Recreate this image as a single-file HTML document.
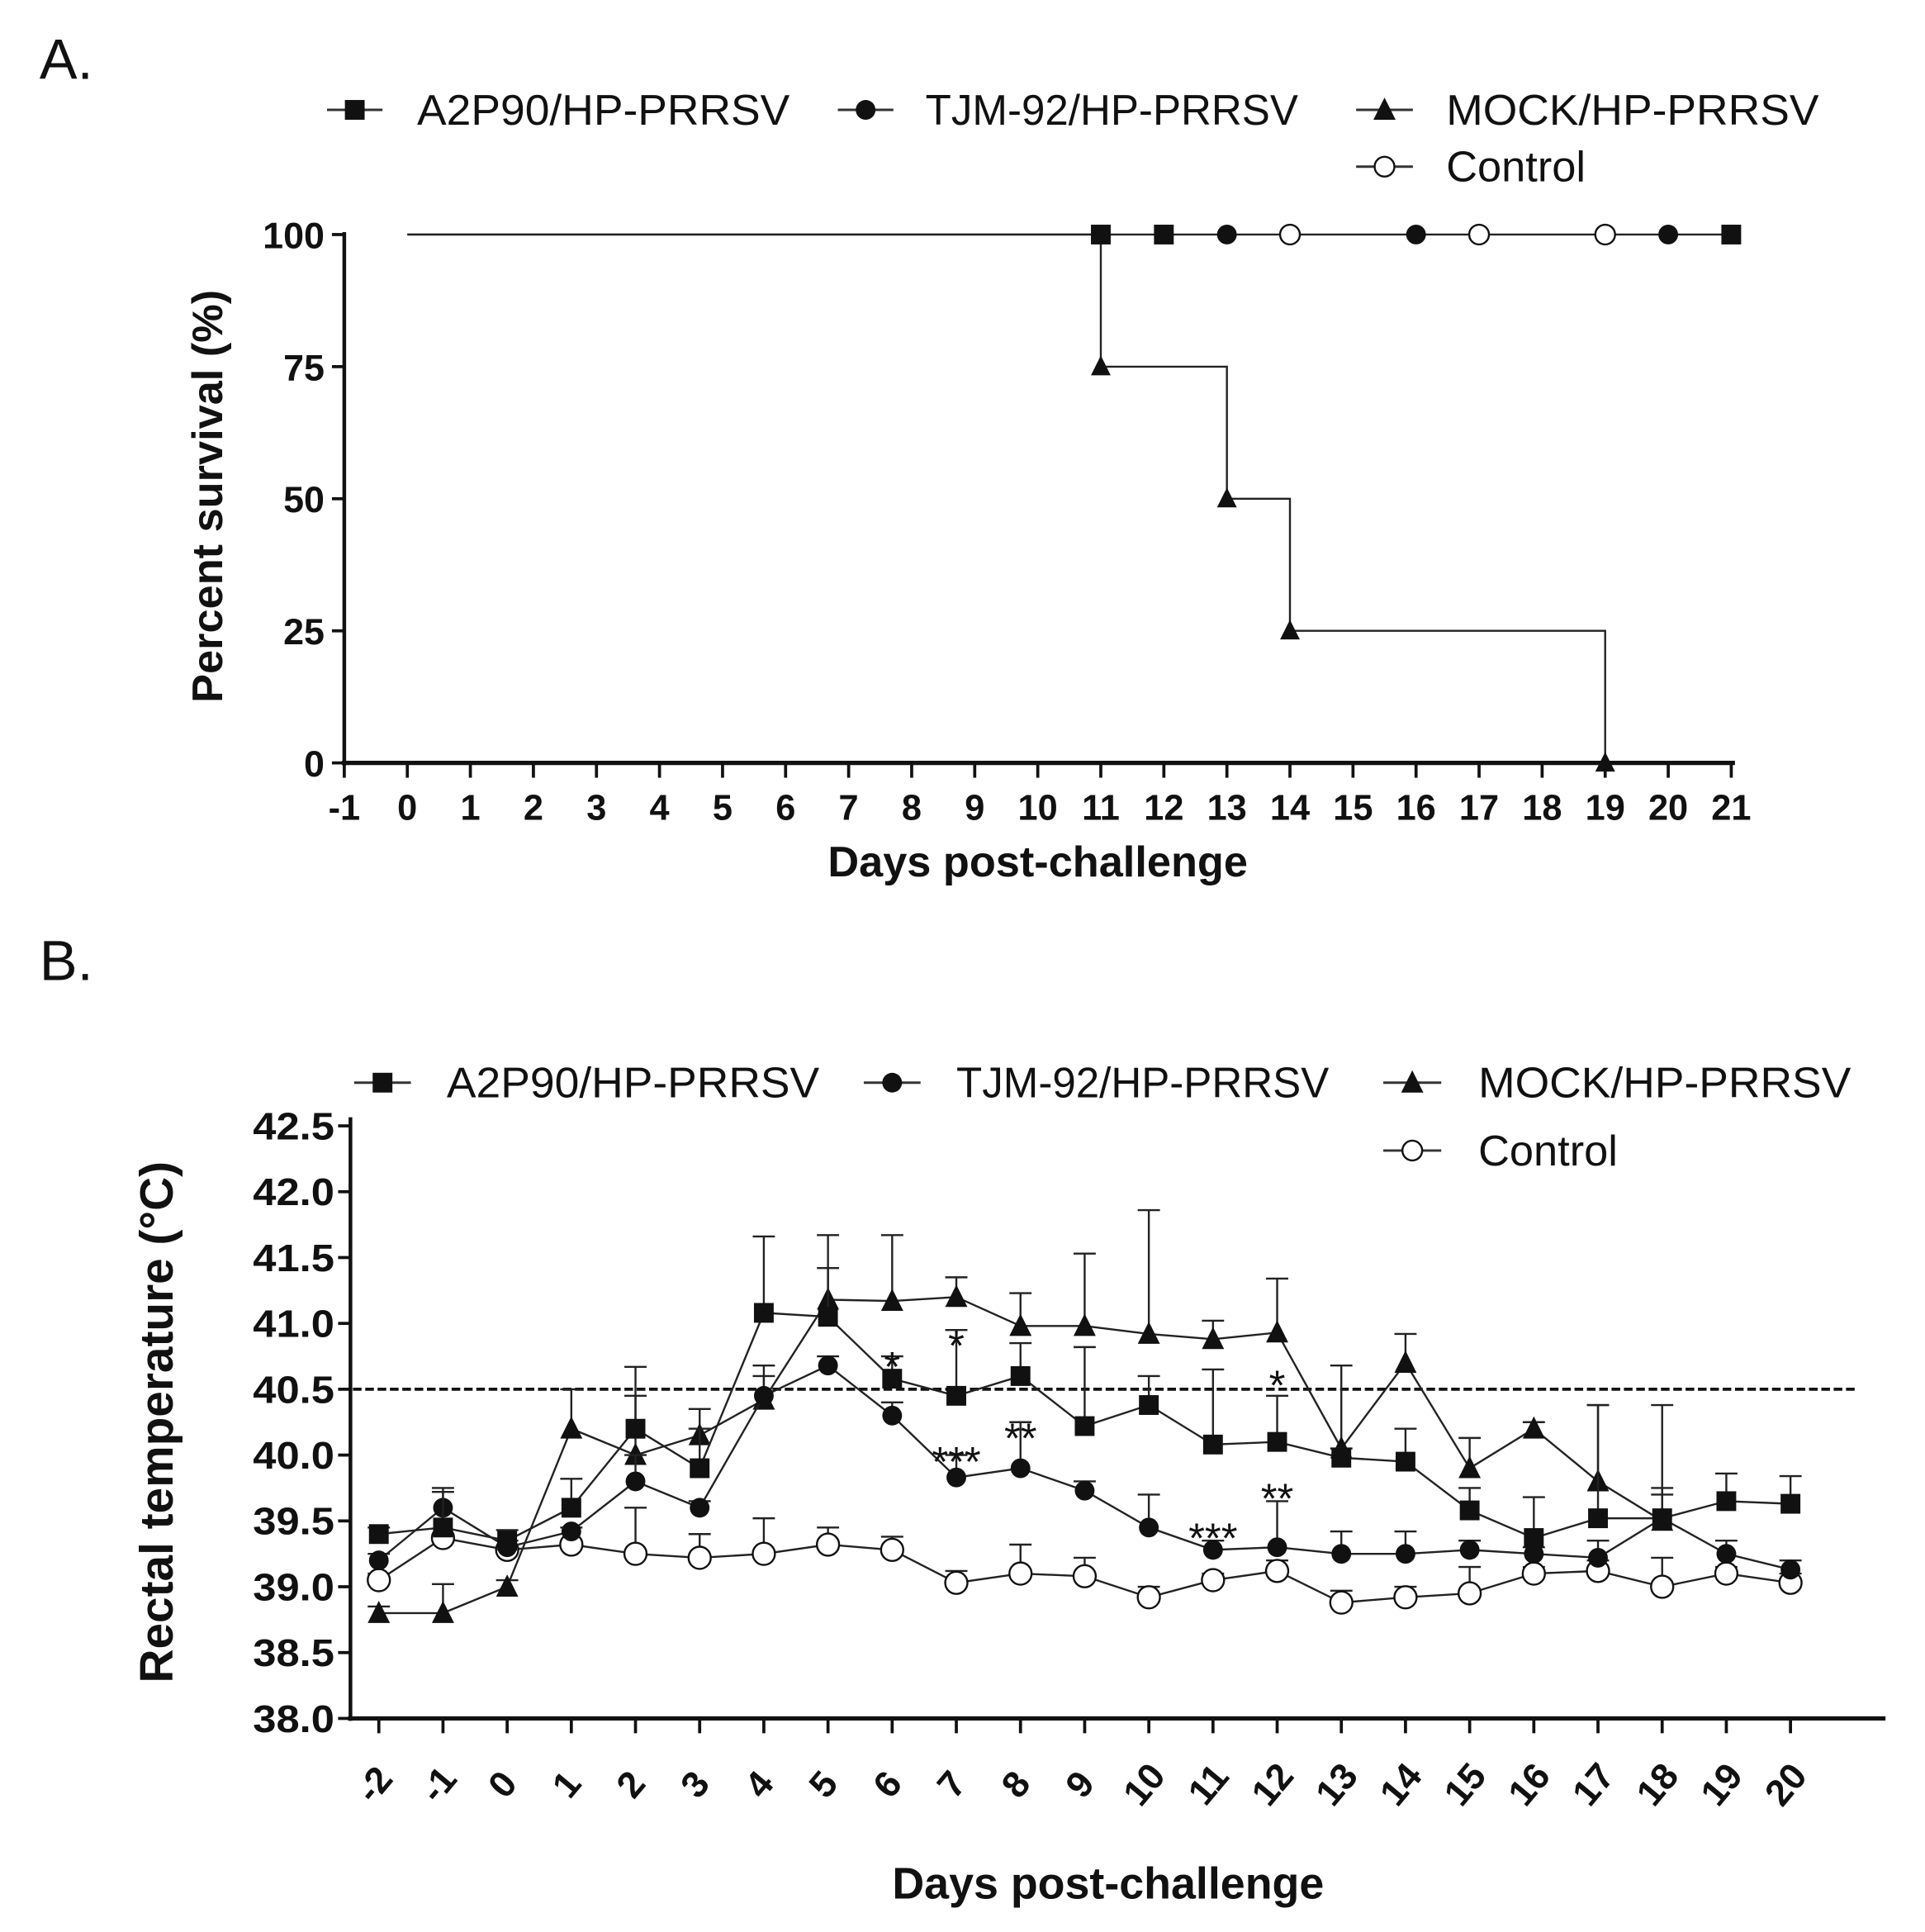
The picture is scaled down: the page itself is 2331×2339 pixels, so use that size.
<!DOCTYPE html>
<html><head><meta charset="utf-8"><style>
html,body{margin:0;padding:0;background:#fff;}
svg{display:block;}
text{font-family:"Liberation Sans",Arial,sans-serif;fill:#111;}
.b{font-weight:bold;}
</style></head><body>
<svg id="fig" width="2331" height="2339" viewBox="0 0 1560 1565" preserveAspectRatio="none" xmlns="http://www.w3.org/2000/svg">
<g id="A"></g>
<g id="B"></g>
</svg>
<script>
// ---------- Panel A data ----------
const survDays = [-1,0,1,2,3,4,5,6,7,8,9,10,11,12,13,14,15,16,17,18,19,20,21];
const survTicks = [0,25,50,75,100];
const mockStepDays = [0,11,13,14,19];
const mockStepVals = [100,75,50,25,0];
const a2p90Censor = [11,12,21];
const tjmCensor = [13,16,20];
const ctrlCensor = [14,17,19];
// ---------- Panel B data ----------
const tempDays = [-2,-1,0,1,2,3,4,5,6,7,8,9,10,11,12,13,14,15,16,17,18,19,20];
const tempTicks = [38.0,38.5,39.0,39.5,40.0,40.5,41.0,41.5,42.0,42.5];
const a2p90Temp = [39.4,39.45,39.35,39.6,40.2,39.9,41.08,41.05,40.58,40.45,40.6,40.22,40.38,40.08,40.1,39.98,39.95,39.58,39.37,39.52,39.52,39.65,39.63];
const a2p90Err  = [39.45,39.72,39.43,39.82,40.45,40.2,41.66,41.42,40.75,40.95,40.85,40.82,40.6,40.65,40.45,40.05,40.2,39.75,39.68,40.38,40.38,39.86,39.84];
const tjmTemp = [39.2,39.6,39.3,39.42,39.8,39.6,40.45,40.68,40.3,39.83,39.9,39.73,39.45,39.28,39.3,39.25,39.25,39.28,39.25,39.22,39.52,39.25,39.13];
const tjmErr  = [39.25,39.75,39.35,39.45,40.0,39.65,40.68,40.75,40.4,40.0,40.25,39.8,39.7,39.35,39.65,39.42,39.42,39.35,39.3,39.35,39.75,39.35,39.2];
const mockDays = [-2,-1,0,1,2,3,4,5,6,7,8,9,10,11,12,13,14,15,16,17,18];
const mockTemp = [38.8,38.8,39.0,40.2,40.0,40.15,40.42,41.18,41.17,41.2,40.98,40.98,40.92,40.88,40.93,40.05,40.7,39.9,40.2,39.8,39.5];
const mockErr  = [38.85,39.02,39.05,40.5,40.67,40.35,40.6,41.67,41.67,41.35,41.23,41.53,41.86,41.02,41.34,40.68,40.92,40.13,40.25,40.38,39.7];
const ctrlTemp = [39.05,39.37,39.28,39.32,39.25,39.22,39.25,39.32,39.28,39.03,39.1,39.08,38.92,39.05,39.12,38.88,38.92,38.95,39.1,39.12,39.0,39.1,39.03];
const ctrlErr  = [39.1,39.4,39.3,39.35,39.6,39.4,39.52,39.45,39.38,39.12,39.32,39.22,39.0,39.1,39.2,38.97,39.0,39.15,39.15,39.2,39.22,39.15,39.1];
const threshold = 40.5;
const starDays = [6,7,7,8,11,12,12];
const starVals = [40.72,40.88,40.0,40.18,39.42,40.58,39.72];
const starText = ["*","*","***","**","***","*","**"];

const NS="http://www.w3.org/2000/svg";
function mk(parent,tag,attrs,txt){const e=document.createElementNS(NS,tag);for(const k in attrs)e.setAttribute(k,attrs[k]);if(txt!==undefined)e.textContent=txt;parent.appendChild(e);return e;}
function marker(g,type,x,y,s){
  let e;
  if(type==='sq') e=mk(g,'rect',{x:x-s,y:y-s,width:2*s,height:2*s,fill:'#111'});
  else if(type==='ci') e=mk(g,'circle',{cx:x,cy:y,r:s,fill:'#111'});
  else if(type==='oc') e=mk(g,'circle',{cx:x,cy:y,r:s,fill:'#fff',stroke:'#111','stroke-width':1.6});
  else e=mk(g,'polygon',{points:`${x},${y-s-1} ${x-s},${y+s-1} ${x+s},${y+s-1}`,fill:'#111'});
  return e;
}
function legend(g,type,x1,x2,y,tx,label){
  const lg=mk(g,'g',{});
  
  
  mk(lg,'line',{x1:x1,x2:x2,y1:y,y2:y,stroke:'#333','stroke-width':2});
  marker(lg,type,(x1+x2)/2,y,type==='oc'?8:(type==='tr'?9:8));
  mk(lg,'text',{x:tx,y:y+12,'font-size':35,textLength:label.length>8?302:113,lengthAdjust:'spacingAndGlyphs'},label);
}

// ================= Panel A =================
(function(){
  const g=document.getElementById('A');
  const X=d=>279+(d+1)*(1403-279)/22, Y=v=>618-v*(618-190)/100;
  mk(g,'text',{x:32,y:64,'font-size':46},'A.');
  legend(g,'sq',265,310,89,338,'A2P90/HP-PRRSV');
  legend(g,'ci',679,724,89,750,'TJM-92/HP-PRRSV');
  legend(g,'tr',1099,1145,89,1172,'MOCK/HP-PRRSV');
  legend(g,'oc',1099,1145,135,1172,'Control');
  const ax=mk(g,'g',{});
  mk(ax,'line',{x1:279,x2:279,y1:188,y2:620,stroke:'#111','stroke-width':3});
  mk(ax,'line',{x1:277,x2:1406,y1:618,y2:618,stroke:'#111','stroke-width':3.5});
  survTicks.forEach(t=>{mk(ax,'line',{x1:269,x2:279,y1:Y(t),y2:Y(t),stroke:'#111','stroke-width':2.5});
    mk(ax,'text',{x:263,y:Y(t)+11,'font-size':30,'text-anchor':'end',class:'b'},String(t));});
  survDays.forEach(d=>{mk(ax,'line',{x1:X(d),x2:X(d),y1:618,y2:630,stroke:'#111','stroke-width':2.5});
    mk(ax,'text',{x:X(d),y:664,'font-size':29,'text-anchor':'middle',class:'b'},String(d));});
  const yt=mk(g,'text',{x:0,y:0,'font-size':35,'text-anchor':'middle',class:'b',transform:`translate(180,402) rotate(-90)`},'Percent survival (%)');
  
  mk(g,'text',{x:841,y:710,'font-size':35,'text-anchor':'middle',class:'b'},'Days post-challenge');
  mk(g,'line',{x1:X(0),x2:X(21),y1:Y(100),y2:Y(100),stroke:'#222','stroke-width':1.6});
  let p=`M${X(mockStepDays[0])},${Y(100)}`;
  for(let i=1;i<mockStepDays.length;i++){p+=` H${X(mockStepDays[i])} V${Y(mockStepVals[i])}`;}
  const mp=mk(g,'path',{d:p,fill:'none',stroke:'#222','stroke-width':1.6});
  
  for(let i=1;i<mockStepDays.length;i++){const m=marker(g,'tr',X(mockStepDays[i]),Y(mockStepVals[i]),8);}
  a2p90Censor.forEach(d=>{const m=marker(g,'sq',X(d),Y(100),8);});
  tjmCensor.forEach(d=>{const m=marker(g,'ci',X(d),Y(100),8);});
  ctrlCensor.forEach(d=>{const m=marker(g,'oc',X(d),Y(100),8);});
})();

// ================= Panel B =================
(function(){
  const g=document.getElementById('B');
  const X=d=>307+(d+2)*(1451-307)/22, Y=v=>1392-(v-38)*(1392-912)/4.5;
  mk(g,'text',{x:32,y:794,'font-size':46},'B.');
  legend(g,'sq',287,333,877,362,'A2P90/HP-PRRSV');
  legend(g,'ci',700,746,877,775,'TJM-92/HP-PRRSV');
  legend(g,'tr',1121,1168,877,1198,'MOCK/HP-PRRSV');
  legend(g,'oc',1121,1168,932,1198,'Control');
  const ax=mk(g,'g',{});
  mk(ax,'line',{x1:284,x2:284,y1:905,y2:1394,stroke:'#111','stroke-width':3});
  mk(ax,'line',{x1:282,x2:1528,y1:1392,y2:1392,stroke:'#111','stroke-width':3.5});
  tempTicks.forEach(t=>{mk(ax,'line',{x1:274,x2:284,y1:Y(t),y2:Y(t),stroke:'#111','stroke-width':2.5});
    mk(ax,'text',{x:271,y:Y(t)+11,'font-size':31,'text-anchor':'end',class:'b',textLength:66,lengthAdjust:'spacingAndGlyphs'},t.toFixed(1));});
  tempDays.forEach(d=>{mk(ax,'line',{x1:X(d),x2:X(d),y1:1392,y2:1404,stroke:'#111','stroke-width':2.5});
    mk(ax,'text',{x:0,y:0,'font-size':30,'text-anchor':'middle',class:'b',transform:`translate(${X(d)+4},${1452}) rotate(-50)`},String(d));});
  mk(g,'text',{x:0,y:0,'font-size':38,'text-anchor':'middle',class:'b',transform:'translate(140,1152) rotate(-90)'},'Rectal temperature (°C)');
  mk(g,'text',{x:898,y:1538,'font-size':36,'text-anchor':'middle',class:'b'},'Days post-challenge');
  const th=mk(g,'line',{x1:286,x2:1505,y1:Y(threshold),y2:Y(threshold),stroke:'#111','stroke-width':2.5,'stroke-dasharray':'7,3'});
  
  function series(name,days,vals,errs,type){
    const sg=mk(g,'g',{});
    
    
    days.forEach((d,i)=>{
      mk(sg,'line',{x1:X(d),x2:X(d),y1:Y(vals[i]),y2:Y(errs[i]),stroke:'#222','stroke-width':1.6});
      mk(sg,'line',{x1:X(d)-9,x2:X(d)+9,y1:Y(errs[i]),y2:Y(errs[i]),stroke:'#222','stroke-width':1.6});
    });
    mk(sg,'polyline',{points:days.map((d,i)=>X(d)+','+Y(vals[i])).join(' '),fill:'none',stroke:'#222','stroke-width':1.6});
    days.forEach((d,i)=>{const m=marker(sg,type,X(d),Y(vals[i]),type==='oc'?9:(type==='tr'?9:8));});
  }
  series('control',tempDays,ctrlTemp,ctrlErr,'oc');
  series('mock',mockDays,mockTemp,mockErr,'tr');
  series('tjm92',tempDays,tjmTemp,tjmErr,'ci');
  series('a2p90',tempDays,a2p90Temp,a2p90Err,'sq');
  starDays.forEach((d,i)=>{const t=mk(g,'text',{x:X(d),y:Y(starVals[i])+17,'font-size':34,'text-anchor':'middle'},starText[i]);});
})();
</script>
</body></html>
